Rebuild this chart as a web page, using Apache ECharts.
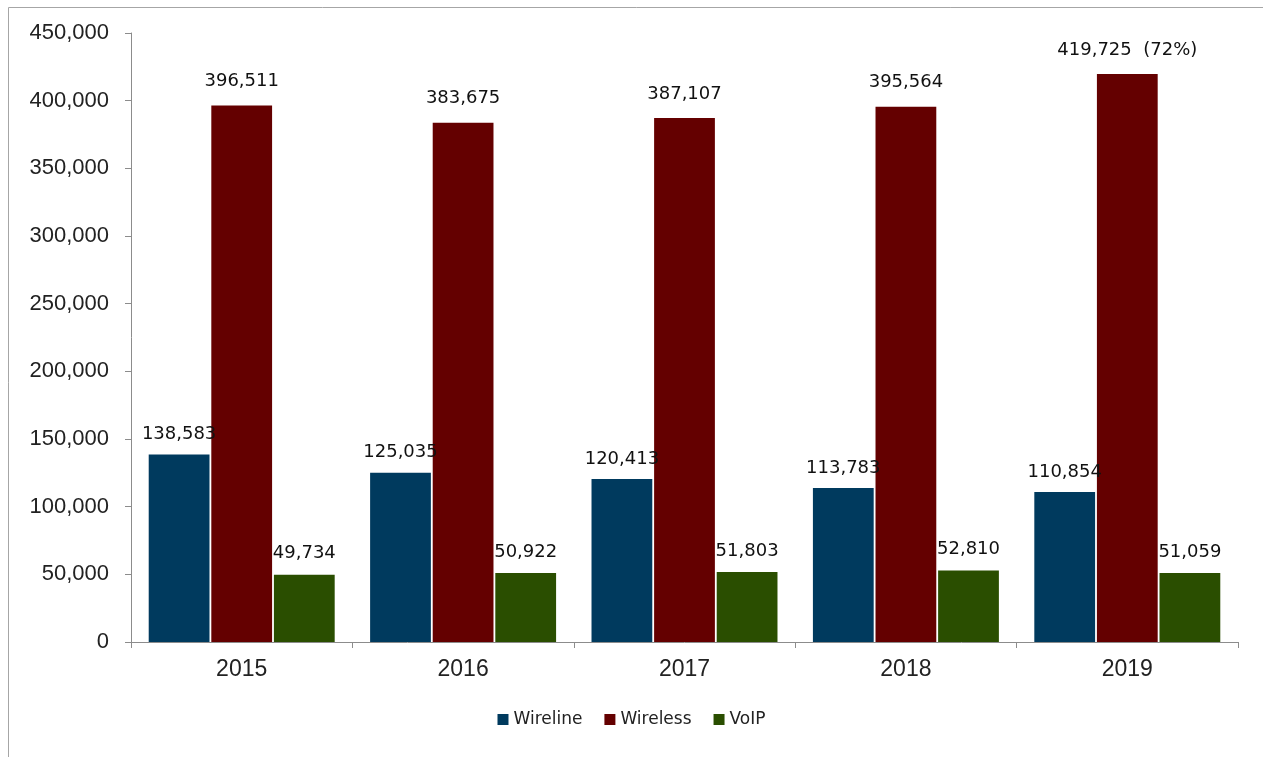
<!DOCTYPE html>
<html>
<head>
<meta charset="utf-8">
<script src="https://cdn.jsdelivr.net/npm/echarts@6/dist/echarts.min.js"></script>
<style>html,body{margin:0;padding:0;background:#fff;}#c{width:1263px;height:757px;}</style>
</head>
<body>
<div id="c"></div>
<script>
const categories = ['2015', '2016', '2017', '2018', '2019'];
const wireline = [138583, 125035, 120413, 113783, 110854];
const wireless = [396511, 383675, 387107, 395564, 419725];
const voip = [49734, 50922, 51803, 52810, 51059];
const wirelessNotes = ['', '', '', '', '  (72%)'];
const seriesNames = ['Wireline', 'Wireless', 'VoIP'];
const colors = ['#003A5E', '#640000', '#2A4E00'];

const fmt = v => v.toLocaleString('en-US');
const labelBase = {
  show: true, position: 'top', distance: 11,
  fontFamily: 'DejaVu Sans, Verdana, sans-serif', fontSize: 18, color: '#111'
};
const chart = echarts.init(document.getElementById('c'));
chart.setOption({
  animation: false,
  graphic: [{
    type: 'rect', x: 8.5, y: 7.5, shape: { x: 0, y: 0, width: 1400, height: 900 },
    style: { fill: 'none', stroke: '#a6a6a6', lineWidth: 1 }, silent: true
  }],
  legend: {
    bottom: 24, left: 'center', itemWidth: 11, itemHeight: 11, itemGap: 22,
    icon: 'rect',
    textStyle: { fontFamily: 'DejaVu Sans, Verdana, sans-serif', fontSize: 17, color: '#222' },
    data: seriesNames
  },
  grid: { left: 131, right: 25, top: 33, bottom: 115 },
  xAxis: {
    type: 'category', data: categories,
    axisLine: { lineStyle: { color: '#8c8c8c', width: 1 } },
    axisTick: { show: true, length: 6, alignWithLabel: false, lineStyle: { color: '#8c8c8c' } },
    axisLabel: { fontFamily: 'Liberation Sans, Arial, sans-serif', fontSize: 23, color: '#222', margin: 16 }
  },
  yAxis: {
    type: 'value', min: 0, max: 450000, interval: 50000,
    axisLine: { show: true, lineStyle: { color: '#8c8c8c', width: 1 } },
    axisTick: { show: true, length: 6, lineStyle: { color: '#8c8c8c' } },
    splitLine: { show: false },
    axisLabel: { fontFamily: 'Liberation Sans, Arial, sans-serif', fontSize: 22, color: '#222', margin: 22,
      formatter: v => fmt(v) }
  },
  series: [
    { name: seriesNames[0], type: 'bar', data: wireline, barGap: '3%', barCategoryGap: '16%',
      itemStyle: { color: colors[0] },
      label: Object.assign({}, labelBase, { formatter: p => fmt(p.value) }) },
    { name: seriesNames[1], type: 'bar', data: wireless,
      itemStyle: { color: colors[1] },
      label: Object.assign({}, labelBase, { distance: 15, formatter: p => fmt(p.value) + wirelessNotes[p.dataIndex] }) },
    { name: seriesNames[2], type: 'bar', data: voip,
      itemStyle: { color: colors[2] },
      label: Object.assign({}, labelBase, { distance: 12, formatter: p => fmt(p.value) }) }
  ]
});
</script>
</body>
</html>
